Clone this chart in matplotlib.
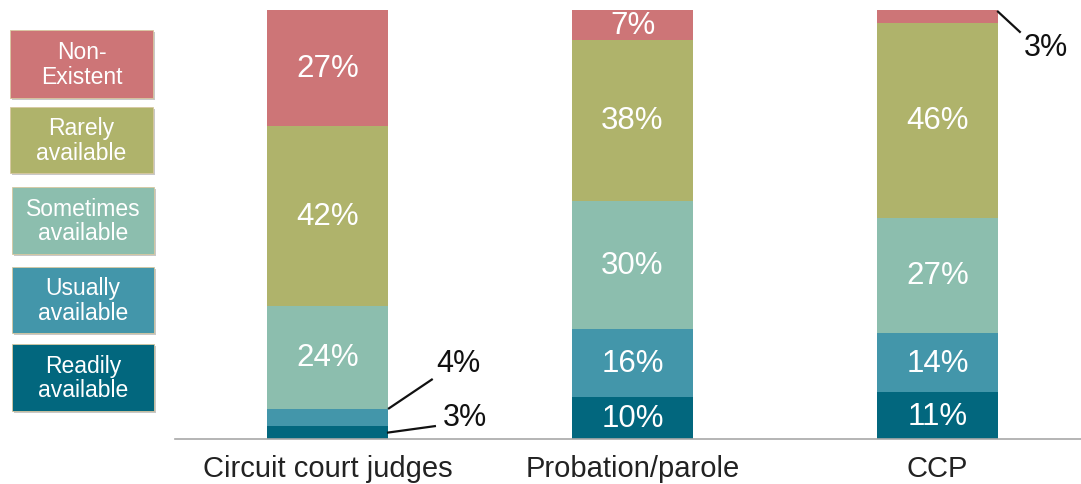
import matplotlib
matplotlib.use("Agg")
import matplotlib.pyplot as plt
from matplotlib.patches import Rectangle
import numpy as np

plt.rcParams['font.family'] = ['Liberation Sans', 'DejaVu Sans']

categories = ["Circuit court judges", "Probation/parole", "CCP"]
levels = ["Readily\navailable", "Usually\navailable", "Sometimes\navailable",
          "Rarely\navailable", "Non-\nExistent"]
readily = [3, 10, 11]
usually = [4, 16, 14]
sometimes = [24, 30, 27]
rarely = [42, 38, 46]
non_existent = [27, 7, 3]

colors = ["#02677E", "#4396AA", "#8CBEAE", "#AFB36B", "#CD7577"]

series = [readily, usually, sometimes, rarely, non_existent]

fig = plt.figure(figsize=(10.81, 4.85), dpi=100)
ax = fig.add_axes([175/1081, 1-440/485, 1-175/1081, 429/485])

x = np.arange(len(categories))
w = 0.397
bottom = np.zeros(len(categories))
totals = np.sum(series, axis=0)
for vals, c in zip(series, colors):
    v = np.array(vals, dtype=float) / totals * 100
    ax.bar(x, v, w, bottom=bottom, color=c, edgecolor='none')
    for i, (val, lab) in enumerate(zip(v, vals)):
        if lab >= 7:
            ax.text(x[i], bottom[i] + val/2, f"{lab}%", ha='center', va='center',
                    color='white', fontsize=22.5)
    bottom += v

# small labels outside
r0 = readily[0]/totals[0]*100
u0 = usually[0]/totals[0]*100
ax.plot([w/2, 0.345], [r0 + u0, 14.0], color='#111111', lw=1.6, solid_capstyle='butt')
ax.text(0.43, 17.8, f"{usually[0]}%", ha='center', va='center', fontsize=22, color='#111111')
ax.plot([w/2, 0.352], [r0/2, 3.0], color='#111111', lw=1.6)
ax.text(0.45, 5.1, f"{readily[0]}%", ha='center', va='center', fontsize=22, color='#111111')
ax.plot([2 + w/2, 2.27], [99.6, 94.9], color='#111111', lw=1.6)
ax.text(2.355, 91.3, f"{non_existent[2]}%", ha='center', va='center', fontsize=22, color='#111111')

ax.set_xlim(-0.5, (1081-327.5)/305)
ax.set_ylim(0, 100)
ax.set_xticks(x)
ax.set_xticklabels(categories, fontsize=21, color='#222222')
ax.tick_params(axis='x', length=0, pad=11)
ax.set_yticks([])
for s in ['top', 'right', 'left']:
    ax.spines[s].set_visible(False)
ax.spines['bottom'].set_color('#A8A8A8')
ax.spines['bottom'].set_linewidth(1.2)

# legend boxes (pixel coords: x0, y0, x1, y1)
boxes = [(12, 345, 154, 412), (12, 268, 154, 334), (12, 188, 154, 255),
         (10, 108, 153, 174), (10, 31, 153, 99)]
W, H = 1081, 485
for (x0, y0, x1, y1), c, lab in zip(boxes, colors, levels):
    fx, fy = x0/W, 1 - y1/H
    fw, fh = (x1-x0)/W, (y1-y0)/H
    fig.patches.append(Rectangle((fx + 2/W, fy - 2/H), fw, fh, transform=fig.transFigure,
                                 facecolor='#C8C8C8', edgecolor='none', zorder=1))
    fig.patches.append(Rectangle((fx, fy), fw, fh, transform=fig.transFigure,
                                 facecolor=c, edgecolor='#D8C8A0', lw=0.6, zorder=2))
    fig.text(fx + fw/2, fy + fh/2, lab, ha='center', va='center', color='white',
             fontsize=16.5, linespacing=1.1, zorder=3)

fig.savefig("out.png", dpi=100)
